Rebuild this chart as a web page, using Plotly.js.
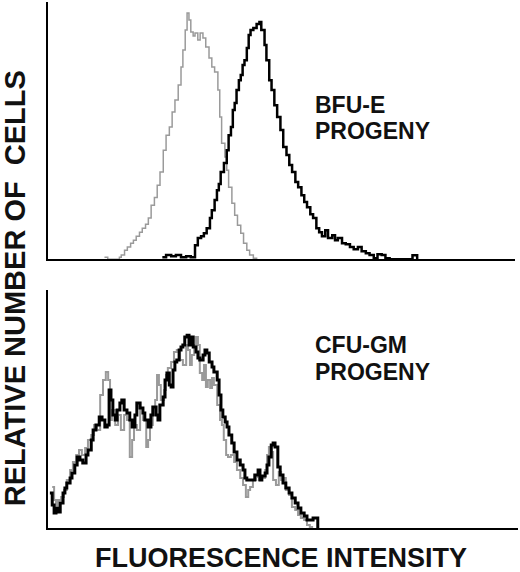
<!DOCTYPE html>
<html>
<head>
<meta charset="utf-8">
<script src="https://cdn.plot.ly/plotly-3.0.1.min.js"></script>
<style>
  html, body { margin: 0; padding: 0; background: #fff; }
  #chart { width: 520px; height: 572px; }
</style>
</head>
<body>
<div id="chart"></div>
<script>
// Flow cytometry histograms (channel vs relative count)
// Top panel: BFU-E progeny, gray = control, black = stained
var bfuControlX = [121, 128, 153, 157, 164, 170, 177, 183, 189, 196, 202, 209, 215, 221, 228, 234, 240, 247, 253, 260,
  266, 272, 279, 285, 289, 294, 298, 302, 306, 311, 315, 321, 326, 332, 338, 345, 351, 357, 364, 368,
  372, 379, 383, 387, 394, 400, 406, 413, 419, 426, 432, 440, 447]
var bfuControlY = [0.8, 0, 0.8, 1.6, 3.5, 4.7, 6.2, 7.4, 8.9, 10.5, 12, 13.6, 16, 21, 24, 28.8, 33.9, 42.4, 48.2, 51.4,
  57.2, 61.9, 67.7, 74.7, 81.3, 89.1, 95.7, 93, 88.3, 86.8, 87.9, 85.2, 87.9, 86, 82.5, 78.2, 74.7, 72.8, 65.8, 55.3,
  45.1, 39.7, 34.6, 28, 21.8, 17.1, 13.2, 10.1, 6.2, 3.5, 1.6, 0.4, 0]

var bfuStainX = [245, 253, 264, 274, 285, 296, 306, 315, 321, 328, 334, 340, 347, 351, 357, 362, 366, 370, 377, 383,
  387, 392, 396, 400, 404, 409, 413, 417, 421, 426, 430, 434, 440, 447, 453, 457, 464, 468, 474, 479,
  485, 491, 498, 504, 511, 517, 523, 530, 536, 543, 549, 555, 562, 568, 575, 581, 587, 594, 600, 609,
  615, 621, 630, 638, 647, 655, 664, 672, 681, 689, 698, 706, 715, 723, 732, 776, 781, 791]
var bfuStainY = [0.8, 1.6, 1.2, 1.6, 0.8, 1.2, 0.8, 5.4, 8.2, 8.9, 10.1, 12, 16, 19, 23, 26.8, 29.2, 33.9, 37.4, 42.4,
  48.2, 51.4, 58, 60.7, 65.8, 69.6, 71.6, 75.5, 77.4, 82.1, 87.2, 89.1, 89.9, 91.4, 92.2, 89.1, 83.3, 77.4, 69.6, 65.8,
  59.9, 55.3, 50.2, 43.6, 40.5, 36.6, 33.9, 30, 28, 24.9, 22.2, 20.2, 17.5, 16, 12, 10.5, 8.9, 11.3, 8.2, 9.3,
  7.4, 8.2, 6.2, 5.8, 4.7, 3.9, 4.7, 3.1, 2.3, 1.6, 0.4, 1.9, 1.6, 0.4, 0, 0, 1.5, 0]

// Bottom panel: CFU-GM progeny
var cfuControlX = [9, 13, 17, 21, 28, 34, 40, 47, 53, 60, 66, 72, 79, 85, 92, 98, 104, 111, 117, 123,
  128, 132, 136, 143, 149, 155, 162, 168, 174, 179, 183, 189, 196, 202, 209, 213, 217, 223, 228, 232,
  236, 240, 247, 251, 255, 262, 268, 274, 281, 287, 294, 298, 302, 306, 311, 315, 319, 323, 328, 332,
  336, 340, 345, 349, 353, 360, 366, 370, 374, 379, 383, 389, 396, 402, 409, 415, 421, 426, 430, 436,
  443, 449, 455, 462, 466, 470, 475, 479, 485, 491, 496, 502, 506, 513, 519, 526, 532, 538, 545, 551,
  557, 562]
var cfuControlY = [17.2, 11.8, 9.7, 11.8, 13, 16, 20.2, 24.4, 27.7, 30.7, 32.8, 30.7, 33.6, 37, 39.1, 43.3, 41.2, 55.9, 62.2, 65.5,
  62.2, 45.4, 49.6, 43.3, 47.5, 41.2, 47.5, 45.4, 29.8, 37, 43.3, 41.2, 50.4, 45.4, 34, 37, 43.3, 47.5, 53.8, 64.3,
  60.1, 53.8, 58, 64.3, 67.2, 69.7, 73.9, 74.8, 70.6, 68.5, 76.9, 74.8, 68.5, 72.7, 76.9, 80.2, 76.9, 65.1, 62.2, 68.5,
  59.2, 62.2, 58.8, 63, 60.1, 51.7, 45.4, 43.3, 37, 30.7, 29.8, 30.7, 27.7, 24.4, 21, 18.1, 13, 16, 17.2, 20.2,
  21.4, 20.2, 21, 24.4, 30.7, 34, 31.9, 20.2, 18.1, 23.5, 20.2, 21, 16, 13.9, 8.8, 7.6, 5.5, 4.2, 3.4, 1.3,
  0.4, 0]

var cfuStainX = [4, 9, 13, 17, 21, 26, 32, 36, 40, 47, 51, 57, 62, 68, 74, 81, 85, 92, 96, 102,
  109, 115, 121, 126, 130, 134, 138, 143, 147, 153, 157, 162, 168, 174, 179, 185, 189, 196, 202, 206,
  213, 219, 223, 230, 234, 238, 245, 249, 253, 258, 262, 266, 270, 274, 279, 283, 287, 291, 296, 300,
  304, 309, 315, 319, 323, 330, 334, 338, 343, 349, 353, 360, 364, 368, 372, 377, 381, 385, 391, 396,
  402, 409, 415, 419, 423, 430, 436, 440, 447, 451, 455, 462, 466, 470, 475, 479, 483, 487, 489, 494,
  500, 506, 513, 519, 526, 532, 538, 545, 551, 557, 564, 570, 574]
var cfuStainY = [14.7, 9.7, 6.3, 8.4, 6.7, 10.5, 14.7, 16.8, 18.9, 21, 23.1, 26.5, 29.8, 28.6, 27.3, 30.7, 32.8, 37, 41.2, 43.3,
  46.6, 45.4, 42.4, 43.3, 58, 53.8, 47.5, 45.4, 49.6, 52.5, 53.8, 49.6, 48.3, 45.4, 42.4, 47.5, 52.5, 50.4, 48.3, 45.4,
  42.4, 47.5, 50.8, 47.5, 45.4, 51.7, 55, 62.2, 65.1, 60.1, 59.2, 66.4, 69.7, 70.6, 74.8, 76, 76.9, 80.2, 81, 76.9,
  80.2, 76, 73.9, 71.4, 70.6, 72.7, 74.8, 73.5, 69.7, 67.6, 65.5, 62.2, 55.9, 49.6, 46.6, 44.5, 42.4, 39.1, 35.7, 31.9,
  28.6, 26.5, 24.4, 21, 20.2, 20.2, 20.2, 22.3, 24.4, 20.2, 21.8, 23.1, 26.5, 29.8, 34.9, 35.7, 34, 34, 25.6, 22.3,
  18.9, 16.8, 14.7, 12.6, 10.5, 8.4, 6.3, 5, 3.4, 3.4, 4.2, 4.2, 0]

var panelLabels = [["BFU-E", "PROGENY"], ["CFU-GM", "PROGENY"]]
var yTitle = "RELATIVE NUMBER OF \u00a0CELLS"
var xTitle = "FLUORESCENCE INTENSITY"

var gray = "#9a9a9a"
var labelFont = { family: "Liberation Sans, Arial, sans-serif", size: 23, color: "#111" }

var traces = [
  { x: bfuControlX, y: bfuControlY, xaxis: "x", yaxis: "y", type: "scatter", mode: "lines",
    line: { shape: "hv", color: gray, width: 1.5 } },
  { x: bfuStainX, y: bfuStainY, xaxis: "x", yaxis: "y", type: "scatter", mode: "lines",
    line: { shape: "hv", color: "#000", width: 2.5 } },
  { x: cfuControlX, y: cfuControlY, xaxis: "x2", yaxis: "y2", type: "scatter", mode: "lines",
    line: { shape: "hv", color: gray, width: 2 } },
  { x: cfuStainX, y: cfuStainY, xaxis: "x2", yaxis: "y2", type: "scatter", mode: "lines",
    line: { shape: "hv", color: "#000", width: 3 } },
]

function bareAxis(extra) {
  var ax = {
    showline: true, linecolor: "#000", linewidth: 2,
    showgrid: false, zeroline: false, showticklabels: false, ticks: "",
    fixedrange: true,
  }
  for (var k in extra) ax[k] = extra[k]
  return ax
}

var annotations = [
  { text: yTitle, xref: "paper", yref: "paper", x: -0.07, y: 0.456, textangle: -90,
    showarrow: false, xanchor: "center", yanchor: "middle", borderpad: 0,
    font: { family: "Liberation Sans, Arial, sans-serif", size: 29, color: "#111", weight: "bold" } },
  { text: xTitle, xref: "paper", yref: "paper", x: 0.496, y: -0.057,
    showarrow: false, xanchor: "center", yanchor: "middle", borderpad: 0,
    font: { family: "Liberation Sans, Arial, sans-serif", size: 27, color: "#111", weight: "bold" } },
]

// label lines, one annotation per line so the line pitch is tight
var labelY = [[0.805, 0.755], [0.348, 0.2975]]
panelLabels.forEach(function (lines, i) {
  lines.forEach(function (t, j) {
    annotations.push({
      text: "<b>" + t + "</b>", xref: "paper", yref: "paper", x: 0.564, y: labelY[i][j],
      showarrow: false, xanchor: "left", yanchor: "middle", font: labelFont,
    })
  })
})

var layout = {
  width: 520, height: 572,
  margin: { l: 48, r: 2, t: 2, b: 44 },
  paper_bgcolor: "#fff", plot_bgcolor: "#fff",
  showlegend: false,
  xaxis: bareAxis({ domain: [0, 0.993], range: [0, 1000], anchor: "y" }),
  yaxis: bareAxis({ domain: [0.511, 1], range: [0, 100], anchor: "x" }),
  xaxis2: bareAxis({ domain: [0, 1], range: [0, 1000], anchor: "y2" }),
  yaxis2: bareAxis({ domain: [0, 0.4525], range: [0, 100], anchor: "x2" }),
  annotations: annotations,
}

Plotly.newPlot("chart", traces, layout, { staticPlot: true, displayModeBar: false })
</script>
</body>
</html>
